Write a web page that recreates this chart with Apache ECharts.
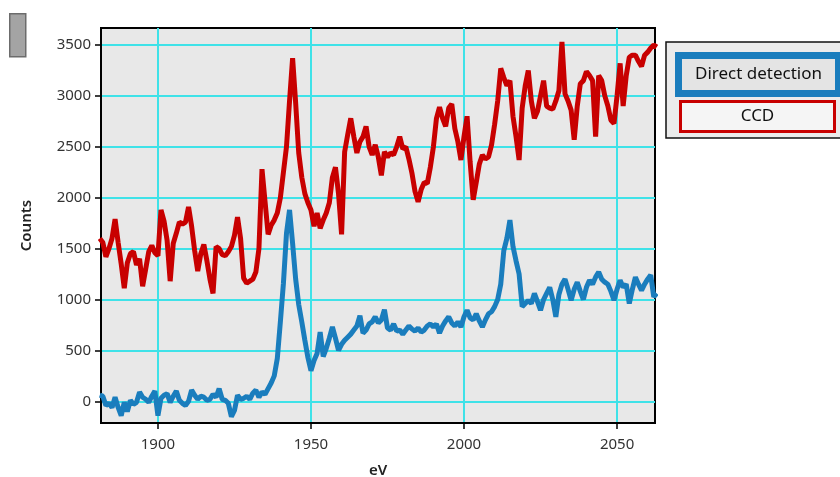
<!DOCTYPE html>
<html><head><meta charset="utf-8">
<script src="https://cdn.jsdelivr.net/npm/echarts@6/dist/echarts.min.js"></script>
<style>html,body{margin:0;padding:0;background:#fff}#c{width:840px;height:477px}</style>
</head><body><div id="c"></div>
<script>
const energy = [
1881,1882,1883,1884,1885,1886,1887,1888,1889,1890,
1891,1892,1893,1894,1895,1896,1897,1898,1899,1900,
1901,1902,1903,1904,1905,1906,1907,1908,1909,1910,
1911,1912,1913,1914,1915,1916,1917,1918,1919,1920,
1921,1922,1923,1924,1925,1926,1927,1928,1929,1930,
1931,1932,1933,1934,1935,1936,1937,1938,1939,1940,
1941,1942,1943,1944,1945,1946,1947,1948,1949,1950,
1951,1952,1953,1954,1955,1956,1957,1958,1959,1960,
1961,1962,1963,1964,1965,1966,1967,1968,1969,1970,
1971,1972,1973,1974,1975,1976,1977,1978,1979,1980,
1981,1982,1983,1984,1985,1986,1987,1988,1989,1990,
1991,1992,1993,1994,1995,1996,1997,1998,1999,2000,
2001,2002,2003,2004,2005,2006,2007,2008,2009,2010,
2011,2012,2013,2014,2015,2016,2017,2018,2019,2020,
2021,2022,2023,2024,2025,2026,2027,2028,2029,2030,
2031,2032,2033,2034,2035,2036,2037,2038,2039,2040,
2041,2042,2043,2044,2045,2046,2047,2048,2049,2050,
2051,2052,2053,2054,2055,2056,2057,2058,2059,2060,
2061,2062,2063];

const ccd = [
1600,1560,1420,1500,1600,1790,1560,1350,1110,1360,
1450,1470,1340,1400,1130,1300,1470,1530,1460,1430,
1880,1770,1580,1180,1550,1650,1760,1740,1760,1910,
1720,1480,1280,1450,1540,1380,1200,1060,1520,1500,
1440,1430,1470,1520,1630,1810,1600,1210,1160,1180,
1200,1270,1500,2280,1960,1640,1730,1780,1850,2000,
2250,2500,2950,3370,2930,2440,2200,2040,1950,1880,
1720,1850,1700,1780,1850,1950,2200,2300,2040,1640,
2450,2620,2780,2600,2440,2550,2600,2700,2500,2420,
2520,2400,2220,2450,2400,2440,2420,2500,2600,2480,
2500,2380,2240,2060,1960,2080,2150,2140,2300,2500,
2780,2890,2780,2700,2880,2920,2680,2550,2370,2600,
2800,2350,1980,2150,2330,2420,2380,2400,2520,2720,
2950,3270,3180,3100,3150,2800,2600,2370,2880,3100,
3250,2950,2780,2850,3000,3150,2900,2880,2870,2950,
3050,3530,3020,2950,2860,2570,2900,3120,3150,3240,
3200,3150,2600,3200,3150,3000,2900,2760,2730,3000,
3320,2900,3200,3380,3400,3400,3340,3290,3400,3430,
3470,3500,3480];

const directDetection = [
60,50,-40,-20,-60,40,-60,-140,-10,-100,
10,-30,-10,90,40,20,-10,50,100,-140,
30,60,75,-10,50,100,10,-20,-40,0,
110,60,20,50,40,10,20,70,40,125,
20,10,-20,-150,-90,60,20,30,50,20,
80,110,40,90,70,125,180,250,420,780,
1160,1650,1880,1550,1200,950,780,600,430,300,
400,470,680,440,520,620,730,620,500,560,
600,630,660,700,740,840,670,700,760,780,
830,770,800,900,720,700,760,690,700,660,
700,740,710,690,720,680,700,740,760,730,
760,670,740,790,830,770,740,780,730,830,
895,820,800,860,790,730,800,860,880,930,
1000,1150,1480,1600,1780,1520,1380,1250,930,960,
990,960,1060,980,895,1000,1060,1120,1000,830,
1050,1150,1200,1100,993,1100,1170,1080,1000,1120,
1190,1150,1220,1270,1200,1170,1150,1080,993,1100,
1190,1120,1150,960,1100,1220,1150,1090,1150,1200,
1240,1026,1060];

const seriesNames = ['Direct detection', 'CCD'];
const xName = 'eV';
const yName = 'Counts';

const FONT = '"Noto Sans", "Open Sans", sans-serif';
const chart = echarts.init(document.getElementById('c'), null, {renderer: 'canvas'});

const pairs = arr => energy.map((e, i) => [e, arr[i]]);
const plain = v => String(v);

const axisCommon = {
  axisLine: {show: true, onZero: false, lineStyle: {color: '#000', width: 2}},
  axisTick: {show: true, length: 6, lineStyle: {color: '#000', width: 1.5}},
  splitLine: {show: true, showMinLine: false, showMaxLine: false, lineStyle: {color: '#3fe2e8', width: 2}},
};

chart.setOption({
  backgroundColor: '#ffffff',
  animation: false,
  grid: {left: 101, top: 28, right: 185, bottom: 54, show: true, backgroundColor: '#e8e8e8', borderColor: '#000', borderWidth: 2,
         containLabel: false, outerBoundsMode: 'none'},
  xAxis: [{
    type: 'value', min: 1881.4, max: 2062.4, splitNumber: 4,
    ...axisCommon,
    name: xName, nameLocation: 'middle', nameGap: 40,
    nameTextStyle: {fontFamily: FONT, fontSize: 15, color: '#222', fontWeight: 600},
    axisLabel: {fontFamily: FONT, fontSize: 15, color: '#333', margin: 14, showMinLabel: false, showMaxLabel: false, formatter: plain}
  }],
  yAxis: [{
    type: 'value', min: -213, max: 3667, splitNumber: 8,
    ...axisCommon,
    name: yName, nameLocation: 'middle', nameGap: 67,
    nameTextStyle: {fontFamily: FONT, fontSize: 15, color: '#222', fontWeight: 600},
    axisLabel: {fontFamily: FONT, fontSize: 15, color: '#333', margin: 10, showMinLabel: false, showMaxLabel: false, formatter: plain}
  }],
  legend: {
    orient: 'vertical', left: 666, top: 42,
    padding: [10, 20, 5, 9],
    backgroundColor: '#ebebeb', borderColor: '#111', borderWidth: 1.5, borderRadius: 0,
    itemWidth: 0, itemHeight: 0, itemGap: 3, icon: 'none',
    selectedMode: false,
    data: seriesNames,
    formatter: n => n === 'CCD' ? '{c|' + n + '}' : '{d|' + n + '}',
    textStyle: {
      fontFamily: FONT, fontSize: 17, color: '#111',
      rich: {
        d: {fontFamily: FONT, fontSize: 17, color: '#111', width: 153, height: 31, lineHeight: 31, align: 'center',
            backgroundColor: '#e4e4e4', borderColor: '#1a7dbd', borderWidth: 7},
        c: {fontFamily: FONT, fontSize: 17, color: '#111', width: 151, height: 27, lineHeight: 27, align: 'center',
            backgroundColor: '#f5f5f5', borderColor: '#c80000', borderWidth: 3}
      }
    }
  },
  graphic: [{
    type: 'rect', left: 9, top: 13, shape: {width: 16, height: 43},
    style: {fill: '#a4a4a4', stroke: '#6c6c6c', lineWidth: 1.5}
  }],
  series: [
    {name: seriesNames[0], type: 'line', data: pairs(directDetection), showSymbol: false, clip: true,
     lineStyle: {color: '#1a7dbd', width: 5}, itemStyle: {color: '#1a7dbd'}, z: 3},
    {name: seriesNames[1], type: 'line', data: pairs(ccd), showSymbol: false, clip: true,
     lineStyle: {color: '#c80000', width: 5}, itemStyle: {color: '#c80000'}, z: 2}
  ]
});
</script></body></html>
